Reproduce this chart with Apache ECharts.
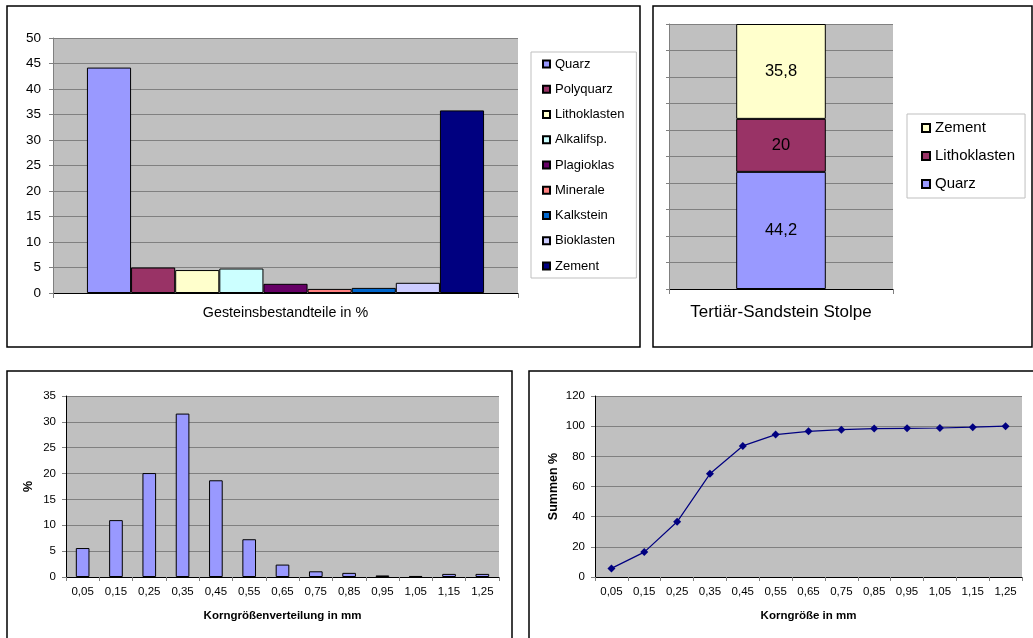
<!DOCTYPE html>
<html>
<head>
<meta charset="utf-8">
<script src="https://cdn.jsdelivr.net/npm/echarts@6/dist/echarts.min.js"></script>
<style>
html,body{margin:0;padding:0;background:#fff;}
#main{position:absolute;left:0;top:0;width:1033px;height:638px;}
#stack{position:absolute;left:653px;top:6px;width:380px;height:342px;}
</style>
</head>
<body>
<div id="main"></div>
<div id="stack"></div>
<script>
// ---- Data ----
const compCategory = ['Gesteinsbestandteile in %'];
const compNames = ['Quarz','Polyquarz','Lithoklasten','Alkalifsp.','Plagioklas','Minerale','Kalkstein','Bioklasten','Zement'];
const compValues = [44.2, 5.0, 4.5, 4.8, 1.8, 0.8, 1.0, 2.0, 35.8];
const compColors = ['#9999FF','#993366','#FFFFCC','#CCFFFF','#660066','#FF8080','#0066CC','#CCCCFF','#000080'];

const stackCategory = ['Tertiär-Sandstein Stolpe'];
const stackNames = ['Quarz','Lithoklasten','Zement'];
const stackValues = [44.2, 20, 35.8];
const stackColors = ['#9999FF','#993366','#FFFFCC'];

const grainSizes = ['0,05','0,15','0,25','0,35','0,45','0,55','0,65','0,75','0,85','0,95','1,05','1,15','1,25'];
const grainPercent = [5.6, 11.0, 20.1, 31.6, 18.7, 7.3, 2.4, 1.1, 0.8, 0.3, 0.2, 0.6, 0.6];
const grainCumulative = [5.7, 16.5, 36.6, 68.4, 86.9, 94.4, 96.6, 97.7, 98.4, 98.6, 98.8, 99.3, 100];

const FONT = 'Liberation Sans, Arial, sans-serif';
const PLOT_BG = '#C0C0C0';
const GRID_LINE = '#808080';

// ---- Main chart (panels 1, 3, 4) ----
const main = echarts.init(document.getElementById('main'), null, {renderer: 'canvas'});
const compSeries = compNames.map((n, i) => ({
  name: n, type: 'bar', xAxisIndex: 0, yAxisIndex: 0,
  data: [compValues[i]],
  barGap: '0%', barCategoryGap: '14.6%',
  itemStyle: {color: compColors[i], borderColor: '#000', borderWidth: 1},
  emphasis: {disabled: true}
}));

main.setOption({
  animation: false,
  textStyle: {fontFamily: FONT, color: '#000'},
  graphic: [
    {type: 'rect', shape: {x: 7, y: 6, width: 633, height: 341}, style: {fill: 'none', stroke: '#000', lineWidth: 1.5}},
    {type: 'rect', shape: {x: 653, y: 6, width: 379, height: 341}, style: {fill: 'none', stroke: '#000', lineWidth: 1.5}},
    {type: 'rect', shape: {x: 7, y: 371, width: 505, height: 290}, style: {fill: 'none', stroke: '#000', lineWidth: 1.5}},
    {type: 'rect', shape: {x: 529, y: 371, width: 520, height: 290}, style: {fill: 'none', stroke: '#000', lineWidth: 1.5}}
  ],
  legend: {
    data: compNames,
    orient: 'vertical', left: 531, top: 52,
    padding: [5, 12, 5, 11],
    borderColor: '#BFBFBF', borderWidth: 1,
    itemWidth: 7, itemHeight: 7, itemGap: 11.25, itemTextGap: 3,
    icon: 'rect',
    textStyle: {fontFamily: FONT, fontSize: 13, lineHeight: 14, color: '#000'},
    selectedMode: false
  },
  grid: [
    {left: 53, top: 38, width: 465, height: 255, show: true, backgroundColor: PLOT_BG, borderWidth: 0},
    {left: 66, top: 396, width: 433, height: 181, show: true, backgroundColor: PLOT_BG, borderWidth: 0},
    {left: 595, top: 396, width: 427, height: 181, show: true, backgroundColor: PLOT_BG, borderWidth: 0}
  ],
  xAxis: [
    {type: 'category', gridIndex: 0, data: compCategory, boundaryGap: true,
     axisLine: {lineStyle: {color: '#000', width: 1}},
     axisTick: {show: true, length: 5, lineStyle: {color: '#808080'}},
     axisLabel: {fontSize: 14.3, margin: 13, color: '#000', fontFamily: FONT}},
    {type: 'category', gridIndex: 1, data: grainSizes, boundaryGap: true,
     name: 'Korngrößenverteilung in mm', nameLocation: 'middle', nameGap: 33,
     nameTextStyle: {fontSize: 11.5, fontWeight: 'bold', color: '#000', fontFamily: FONT},
     axisLine: {lineStyle: {color: '#000', width: 1}},
     axisTick: {show: true, length: 4, lineStyle: {color: '#808080'}},
     axisLabel: {fontSize: 11.5, margin: 9, color: '#000', fontFamily: FONT, interval: 0}},
    {type: 'category', gridIndex: 2, data: grainSizes, boundaryGap: true,
     name: 'Korngröße in mm', nameLocation: 'middle', nameGap: 33,
     nameTextStyle: {fontSize: 11.5, fontWeight: 'bold', color: '#000', fontFamily: FONT},
     axisLine: {lineStyle: {color: '#000', width: 1}},
     axisTick: {show: true, length: 4, lineStyle: {color: '#808080'}},
     axisLabel: {fontSize: 11.5, margin: 9, color: '#000', fontFamily: FONT, interval: 0}}
  ],
  yAxis: [
    {type: 'value', gridIndex: 0, min: 0, max: 50, interval: 5,
     axisLine: {show: true, lineStyle: {color: '#808080'}},
     axisTick: {show: true, length: 4, lineStyle: {color: '#808080'}},
     axisLabel: {fontSize: 13.5, margin: 12, color: '#000', fontFamily: FONT},
     splitLine: {lineStyle: {color: GRID_LINE, width: 1}}},
    {type: 'value', gridIndex: 1, min: 0, max: 35, interval: 5,
     name: '%', nameLocation: 'middle', nameGap: 31, nameRotate: 90,
     nameTextStyle: {fontSize: 12.5, fontWeight: 'bold', color: '#000', fontFamily: FONT},
     axisLine: {show: true, lineStyle: {color: '#000'}},
     axisTick: {show: true, length: 4, lineStyle: {color: '#808080'}},
     axisLabel: {fontSize: 11.5, margin: 10, color: '#000', fontFamily: FONT},
     splitLine: {lineStyle: {color: GRID_LINE, width: 1}}},
    {type: 'value', gridIndex: 2, min: 0, max: 120, interval: 20,
     name: 'Summen %', nameLocation: 'middle', nameGap: 35, nameRotate: 90,
     nameTextStyle: {fontSize: 12.5, fontWeight: 'bold', color: '#000', fontFamily: FONT},
     axisLine: {show: true, lineStyle: {color: '#000'}},
     axisTick: {show: true, length: 4, lineStyle: {color: '#808080'}},
     axisLabel: {fontSize: 11.5, margin: 10, color: '#000', fontFamily: FONT},
     splitLine: {lineStyle: {color: GRID_LINE, width: 1}}}
  ],
  series: compSeries.concat([
    {name: 'Korngrößenverteilung', type: 'bar', xAxisIndex: 1, yAxisIndex: 1,
     data: grainPercent, barWidth: '41%',
     itemStyle: {color: '#9999FF', borderColor: '#000', borderWidth: 1},
     emphasis: {disabled: true}},
    {name: 'Summen', type: 'line', xAxisIndex: 2, yAxisIndex: 2,
     data: grainCumulative, symbol: 'diamond', symbolSize: 8,
     itemStyle: {color: '#000080'},
     lineStyle: {color: '#000080', width: 1.2},
     emphasis: {disabled: true}}
  ])
});

// ---- Panel 2: stacked column ----
const stack = echarts.init(document.getElementById('stack'), null, {renderer: 'canvas'});
stack.setOption({
  animation: false,
  backgroundColor: 'transparent',
  textStyle: {fontFamily: FONT, color: '#000'},
  legend: {
    data: ['Zement', 'Lithoklasten', 'Quarz'],
    orient: 'vertical', left: 254, top: 108,
    padding: [6, 10, 6, 14],
    borderColor: '#BFBFBF', borderWidth: 1,
    itemWidth: 8, itemHeight: 8, itemGap: 12, itemTextGap: 2,
    icon: 'rect',
    textStyle: {fontFamily: FONT, fontSize: 15, lineHeight: 16, color: '#000'},
    selectedMode: false
  },
  grid: {left: 16, top: 18, width: 224, height: 265, show: true, backgroundColor: PLOT_BG, borderWidth: 0},
  xAxis: {type: 'category', data: stackCategory, boundaryGap: true,
    axisLine: {lineStyle: {color: '#000'}},
    axisTick: {show: true, length: 5, lineStyle: {color: '#808080'}},
    axisLabel: {fontSize: 17, margin: 15, color: '#000', fontFamily: FONT}},
  yAxis: {type: 'value', min: 0, max: 100, interval: 10,
    axisLine: {show: true, lineStyle: {color: '#808080'}},
    axisTick: {show: true, length: 3, lineStyle: {color: '#808080'}},
    axisLabel: {show: false},
    splitLine: {lineStyle: {color: GRID_LINE, width: 1}}},
  series: stackNames.map((n, i) => ({
    name: n, type: 'bar', stack: 'total', data: [stackValues[i]],
    barWidth: '40%',
    itemStyle: {color: stackColors[i], borderColor: '#000', borderWidth: 1},
    label: {show: true, position: 'inside', fontSize: 16.5, color: '#000', fontFamily: FONT,
      formatter: p => String(p.value).replace('.', ',')},
    emphasis: {disabled: true}
  }))
});
</script>
</body>
</html>
